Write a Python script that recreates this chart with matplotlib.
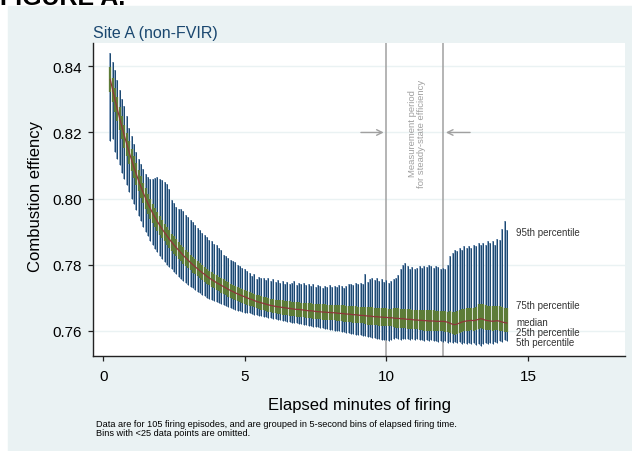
import numpy as np
import matplotlib
matplotlib.use("Agg")
import matplotlib.pyplot as plt
from matplotlib.patches import Rectangle

plt.rcParams['font.family'] = ['Liberation Sans', 'DejaVu Sans']

# 5-second bins of elapsed firing time (bin start, seconds)
bin_sec = np.arange(15, 860, 5)

# combustion efficiency percentiles per bin, in units of 0.0001
p95 = [8440, 8414, 8390, 8360, 8330, 8300, 8280, 8250, 8215, 8190, 8165, 8140,
       8120, 8105, 8090, 8075, 8065, 8060, 8058, 8063, 8065, 8060, 8055, 8050,
       8045, 8030, 7995, 7985, 7975, 7968, 7967, 7962, 7950, 7945, 7935, 7928,
       7920, 7912, 7905, 7895, 7890, 7882, 7875, 7870, 7862, 7858, 7850, 7845,
       7830, 7825, 7820, 7815, 7812, 7808, 7800, 7795, 7790, 7785, 7780, 7775,
       7765, 7770, 7755, 7762, 7758, 7760, 7752, 7758, 7750, 7755, 7748, 7752,
       7745, 7750, 7742, 7748, 7740, 7745, 7750, 7738, 7744, 7740, 7745, 7738,
       7742, 7735, 7740, 7733, 7738, 7735, 7730, 7736, 7732, 7738, 7733, 7735,
       7732, 7738, 7734, 7730, 7736, 7740, 7742, 7738, 7744, 7740, 7745, 7742,
       7770, 7748, 7755, 7760, 7752, 7758, 7750, 7755, 7748, 7752, 7745, 7750,
       7755, 7760, 7768, 7785, 7800, 7805, 7795, 7788, 7792, 7785, 7790, 7795,
       7790, 7796, 7792, 7798, 7795, 7790, 7796, 7792, 7785, 7790, 7788, 7800,
       7825, 7835, 7845, 7840, 7850, 7845, 7855, 7850, 7855, 7850, 7860, 7855,
       7865, 7860, 7865, 7860, 7870, 7865, 7870, 7860, 7877, 7875, 7908, 7933, 7905]
p75 = [8398, 8366, 8336, 8306, 8278, 8250, 8224, 8198, 8174, 8150, 8128, 8107,
       8086, 8067, 8048, 8031, 8014, 7999, 7984, 7971, 7958, 7946, 7935, 7924,
       7914, 7904, 7894, 7885, 7877, 7868, 7860, 7852, 7844, 7837, 7830, 7823,
       7816, 7810, 7804, 7798, 7793, 7786, 7781, 7776, 7772, 7767, 7763, 7759,
       7755, 7751, 7747, 7742, 7739, 7735, 7732, 7729, 7726, 7723, 7720, 7717,
       7715, 7712, 7709, 7707, 7705, 7703, 7701, 7699, 7697, 7696, 7694, 7693,
       7693, 7692, 7691, 7690, 7689, 7688, 7687, 7686, 7686, 7685, 7684, 7683,
       7683, 7683, 7682, 7681, 7680, 7680, 7679, 7679, 7678, 7678, 7677, 7677,
       7678, 7677, 7677, 7676, 7675, 7675, 7674, 7673, 7673, 7672, 7671, 7671,
       7672, 7671, 7671, 7670, 7669, 7669, 7668, 7668, 7667, 7667, 7666, 7666,
       7668, 7667, 7667, 7666, 7666, 7665, 7664, 7664, 7663, 7662, 7662, 7661,
       7663, 7662, 7662, 7661, 7661, 7661, 7660, 7660, 7660, 7660, 7659, 7657,
       7660, 7657, 7656, 7658, 7661, 7664, 7666, 7667, 7668, 7669, 7668, 7670,
       7679, 7681, 7679, 7676, 7675, 7674, 7673, 7674, 7675, 7673, 7671, 7669, 7668]
p50 = [8360, 8329, 8299, 8270, 8242, 8215, 8189, 8164, 8140, 8117, 8095, 8074,
       8054, 8035, 8017, 8000, 7984, 7969, 7955, 7942, 7930, 7918, 7907, 7897,
       7887, 7877, 7868, 7859, 7851, 7843, 7835, 7827, 7820, 7813, 7806, 7799,
       7793, 7787, 7781, 7775, 7770, 7764, 7759, 7754, 7750, 7745, 7741, 7737,
       7733, 7729, 7725, 7721, 7718, 7714, 7711, 7708, 7705, 7702, 7699, 7696,
       7694, 7691, 7688, 7686, 7684, 7682, 7680, 7678, 7676, 7675, 7673, 7672,
       7671, 7670, 7669, 7668, 7667, 7666, 7665, 7664, 7664, 7663, 7662, 7661,
       7660, 7660, 7659, 7658, 7657, 7657, 7656, 7656, 7655, 7655, 7654, 7654,
       7653, 7652, 7652, 7651, 7650, 7650, 7649, 7648, 7648, 7647, 7646, 7646,
       7645, 7644, 7644, 7643, 7642, 7642, 7641, 7641, 7640, 7640, 7639, 7639,
       7638, 7637, 7637, 7636, 7636, 7635, 7634, 7634, 7633, 7632, 7632, 7631,
       7631, 7630, 7630, 7629, 7629, 7629, 7628, 7628, 7628, 7628, 7627, 7625,
       7622, 7619, 7618, 7620, 7623, 7626, 7628, 7629, 7630, 7631, 7630, 7632,
       7634, 7636, 7634, 7631, 7630, 7629, 7628, 7629, 7630, 7628, 7626, 7624, 7623]
p25 = [8322, 8292, 8262, 8234, 8206, 8180, 8154, 8130, 8106, 8084, 8062, 8041,
       8022, 8003, 7986, 7969, 7954, 7939, 7926, 7913, 7902, 7890, 7879, 7870,
       7860, 7850, 7842, 7833, 7825, 7818, 7810, 7802, 7796, 7789, 7782, 7775,
       7770, 7764, 7758, 7752, 7747, 7742, 7737, 7732, 7728, 7723, 7719, 7715,
       7711, 7707, 7703, 7700, 7697, 7693, 7690, 7687, 7684, 7681, 7678, 7675,
       7673, 7670, 7667, 7665, 7663, 7661, 7659, 7657, 7655, 7654, 7652, 7651,
       7649, 7648, 7647, 7646, 7645, 7644, 7643, 7642, 7642, 7641, 7640, 7639,
       7637, 7637, 7636, 7635, 7634, 7634, 7633, 7633, 7632, 7632, 7631, 7631,
       7629, 7628, 7628, 7627, 7626, 7626, 7625, 7624, 7624, 7623, 7622, 7622,
       7619, 7618, 7618, 7617, 7616, 7616, 7615, 7615, 7614, 7614, 7613, 7613,
       7610, 7609, 7609, 7608, 7608, 7607, 7606, 7606, 7605, 7604, 7604, 7603,
       7601, 7600, 7600, 7599, 7599, 7599, 7598, 7598, 7598, 7598, 7597, 7595,
       7592, 7589, 7588, 7590, 7593, 7596, 7598, 7599, 7600, 7601, 7600, 7602,
       7606, 7608, 7606, 7603, 7602, 7601, 7600, 7601, 7602, 7600, 7598, 7596, 7595]
p5 = [8173, 8179, 8141, 8120, 8100, 8078, 8058, 8040, 8020, 8000, 7982, 7966,
      7948, 7932, 7915, 7900, 7886, 7872, 7860, 7848, 7837, 7826, 7816, 7808,
      7800, 7792, 7785, 7777, 7770, 7763, 7757, 7750, 7745, 7739, 7733, 7728,
      7723, 7718, 7713, 7709, 7705, 7700, 7697, 7693, 7690, 7686, 7683, 7680,
      7676, 7673, 7670, 7667, 7665, 7662, 7660, 7658, 7656, 7654, 7653, 7652,
      7650, 7648, 7646, 7645, 7643, 7641, 7640, 7638, 7637, 7635, 7634, 7632,
      7631, 7630, 7628, 7627, 7626, 7624, 7623, 7622, 7620, 7619, 7618, 7617,
      7615, 7614, 7612, 7611, 7610, 7608, 7607, 7606, 7604, 7603, 7602, 7600,
      7599, 7598, 7596, 7595, 7594, 7592, 7591, 7590, 7588, 7587, 7586, 7585,
      7583, 7581, 7580, 7578, 7577, 7575, 7574, 7572, 7571, 7570, 7569, 7570,
      7575, 7578, 7574, 7572, 7576, 7573, 7575, 7571, 7574, 7570, 7573, 7571,
      7572, 7569, 7571, 7568, 7570, 7567, 7569, 7566, 7568, 7565, 7567, 7563,
      7566, 7562, 7565, 7561, 7564, 7560, 7563, 7559, 7562, 7558, 7561, 7557,
      7560, 7554, 7558, 7561, 7559, 7563, 7560, 7566, 7562, 7568, 7565, 7570, 7567]

pct_labels = ['95th percentile', '75th percentile', 'median',
              '25th percentile', '5th percentile']
pct_label_y = [0.7898, 0.7677, 0.7627, 0.7596, 0.7566]

navy = '#1a476f'
navy_edge = '#7b98b8'
green = '#55752f'
green_edge = '#8aa46a'
maroon = '#90353b'
panel = '#eaf2f3'
gray = '#a0a0a0'

minutes = bin_sec / 60.0
q95, q75, q50, q25, q5 = [np.array(s) / 1e4 for s in (p95, p75, p50, p25, p5)]

fig = plt.figure(figsize=(6.32, 4.52), dpi=100)
fig.patches.append(Rectangle((8 / 632, 0), 624 / 632, 445 / 452,
                             transform=fig.transFigure, color=panel, zorder=-10))
fig.text(0.0, 1 - 5 / 452, 'FIGURE A.', fontsize=18, fontweight='bold',
         va='baseline', ha='left')

ax = fig.add_axes([93 / 632, 95 / 452, 532 / 632, 313 / 452])
ax.set_facecolor('white')

# 5th-95th range: light outline under a dark core
ax.vlines(minutes, q5, q95, color=navy_edge, lw=1.25, zorder=2)
ax.vlines(minutes, q5, q95, color=navy, lw=0.7, zorder=2.1)
# interquartile range
ax.vlines(minutes, q25, q75, color=green_edge, lw=1.7, zorder=3)
ax.vlines(minutes, q25, q75, color=green, lw=1.2, zorder=3.1)
ax.plot(minutes, q50, color=maroon, lw=0.9, zorder=4)

# steady-state measurement window
for xv in (10, 12):
    ax.axvline(xv, color=gray, lw=1.1, zorder=1)
ax.annotate('', xy=(10, 0.82), xytext=(9.0, 0.82),
            arrowprops=dict(arrowstyle='->', color=gray, lw=1.0))
ax.annotate('', xy=(12, 0.82), xytext=(13.05, 0.82),
            arrowprops=dict(arrowstyle='->', color=gray, lw=1.0))
ax.text(11.07, 0.82, 'Measurement period\nfor steady-state efficiency',
        rotation=90, ha='center', va='center', multialignment='center',
        fontsize=6.8, color=gray, linespacing=1.05)

for lab, yv in zip(pct_labels, pct_label_y):
    ax.text(14.57, yv, lab, fontsize=7, va='center', ha='left', color='#333333')

ax.set_xlim(-0.36, 18.42)
ax.set_ylim(0.7523, 0.8471)
ax.set_xticks([0, 5, 10, 15])
ax.set_yticks([0.76, 0.78, 0.80, 0.82, 0.84])
ax.set_yticklabels(['0.76', '0.78', '0.80', '0.82', '0.84'])
ax.yaxis.grid(True, color=panel, lw=1.0)
ax.set_axisbelow(True)
for s in ('top', 'right'):
    ax.spines[s].set_visible(False)
for s in ('left', 'bottom'):
    ax.spines[s].set_color('#222222')
    ax.spines[s].set_linewidth(1.0)
ax.tick_params(axis='both', direction='out', length=3.6, width=0.9,
               color='#222222', labelsize=11)
ax.tick_params(axis='y', pad=4.5)
ax.tick_params(axis='x', pad=6)

ax.set_title('Site A (non-FVIR)', loc='left', fontsize=11.5, color=navy, pad=4)
fig.text(36 / 632, 1 - 197 / 452, 'Combustion effiency', rotation=90,
         ha='center', va='center', fontsize=12)
fig.text(359 / 632, 1 - 406 / 452, 'Elapsed minutes of firing',
         ha='center', va='center', fontsize=12)
fig.text(96 / 632, 1 - 429 / 452,
         'Data are for 105 firing episodes, and are grouped in 5-second bins of elapsed firing time.\n'
         'Bins with <25 data points are omitted.',
         ha='left', va='center', fontsize=6.6, linespacing=1.0)

fig.savefig('out.png', dpi=100)
